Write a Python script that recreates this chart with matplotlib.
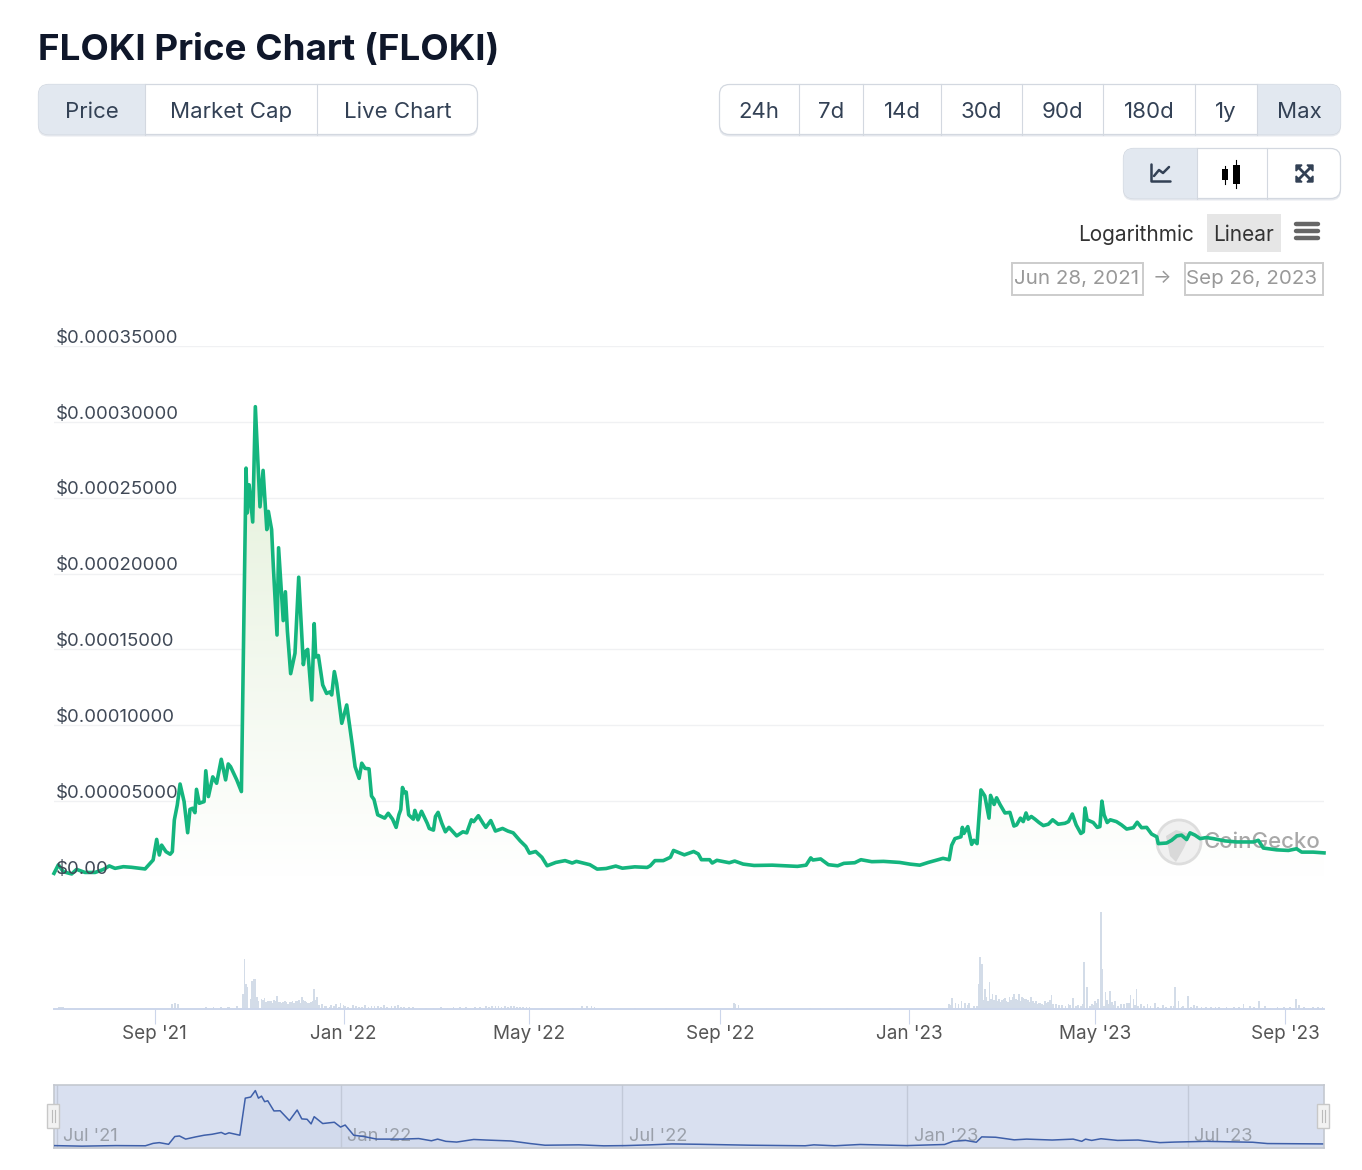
from datetime import date

import matplotlib
matplotlib.use('Agg')
from matplotlib import dates as mdates
from matplotlib import pyplot as plt
from matplotlib.colors import LinearSegmentedColormap
from matplotlib.patches import Circle, FancyBboxPatch, Polygon, Rectangle
import numpy as np

WIDTH = 1362
HEIGHT = 1170
START_DATE = date(2021, 6, 28)
NUM_DAYS = 820

# Price in units of 0.00001 USD, x is days after START_DATE
price_days = [0, 2.8, 6, 11.4, 14.6, 20, 26.5, 32, 35.7, 39.4, 44.8, 50, 58.8, 64, 66.3, 68, 69.5, 72.3, 75, 76.4,
              77.7, 79.6, 81.4, 84, 86.3, 87.8, 89.5, 91, 92, 93.8, 96.9, 98, 99.7, 102.5, 105, 108, 110.8, 112.5, 114, 118,
              121, 124, 124.8, 126, 128.3, 130, 133, 135, 137.4, 138.4, 140.5, 141.6, 144, 145, 148, 149.4, 150.7, 152.8, 155.6, 158,
              161, 162.3, 163.8, 166.4, 168, 169, 170.7, 173.5, 176, 178.2, 179.3, 181, 182.5, 185.8, 189, 191, 192.6, 194.4, 197, 198.7,
              200.8, 203.4, 205, 206.6, 209, 213.5, 215.8, 218.6, 220.9, 222.7, 223.9, 225, 226.2, 227.4, 229, 232, 233, 235, 237.3, 241,
              242.3, 245, 246.3, 248, 250.4, 252.7, 255, 260, 264, 266.5, 269.5, 271, 274, 277, 278.8, 282, 285, 289.6, 293, 296.5,
              301, 304.6, 307, 311, 315, 318.4, 324, 330, 334.6, 337.3, 346, 350.7, 356.5, 362.7, 367, 375, 383, 385, 388, 393.4,
              398, 400, 407, 413, 416, 418, 423.3, 425, 428, 436, 439.5, 445, 452, 463.7, 480, 485.6, 488.6, 490, 495, 500,
              506, 510, 517, 521, 528, 535.6, 546, 552.7, 559, 564.5, 570, 574, 578, 579.6, 581.7, 585.6, 586.5, 587.5, 590, 592.5,
              594, 596, 598.5, 601, 603.7, 604.7, 607, 608.6, 610.8, 614, 617.2, 619.8, 621.5, 624, 625.8, 627.6, 629, 631, 633.4, 636,
              638.8, 642, 644.8, 648.4, 652.7, 655, 657.5, 660, 663, 664.6, 665.7, 667, 671, 673.6, 675.3, 676.6, 678, 680, 682, 686,
              689.3, 692.6, 696.9, 699.4, 702.2, 705.5, 708.7, 712, 713, 718.4, 721.6, 725, 728, 731.3, 733.5, 736.7, 740, 744, 748.5, 756,
              763.6, 774.4, 777.6, 780.8, 789.4, 797, 802.3, 805.6, 813, 820]
price_values = [0.24, 0.8, 0.35, 0.2, 0.5, 0.3, 0.3, 0.5, 0.73, 0.57, 0.68, 0.64, 0.53, 1.12, 2.48, 1.45, 2.1, 1.67, 1.5, 1.67,
                3.76, 4.75, 6.13, 4.97, 2.92, 4.46, 4.53, 4.24, 5.78, 4.86, 4.97, 7.0, 5.3, 6.6, 6.18, 7.76, 6.4, 7.45, 7.27, 6.4,
                5.63, 26.95, 24, 25.85, 23.4, 31, 24.4, 26.8, 22.9, 24.1, 22.9, 20.5, 15.95, 21.7, 16.9, 18.8, 16.2, 13.4, 14.75, 19.76,
                14, 14.85, 15, 11.67, 16.7, 14.5, 14.6, 12.66, 12.1, 12.2, 12, 13.54, 12.77, 10.13, 11.34, 9.9, 8.7, 7.27, 6.5, 7.5,
                7.16, 7.13, 5.34, 5.11, 4.1, 3.88, 4.2, 3.81, 3.27, 4.1, 4.44, 5.9, 5.56, 5.6, 4.1, 3.81, 4.39, 3.77, 4.33, 3.54,
                3.2, 3.09, 3.99, 4.26, 3.54, 2.98, 3.27, 2.71, 2.98, 2.91, 3.77, 3.65, 4.04, 3.54, 3.27, 3.72, 3.03, 3.2, 3.03, 2.91,
                2.38, 2.02, 1.57, 1.68, 1.3, 0.74, 0.96, 1.08, 0.92, 1.03, 0.81, 0.52, 0.56, 0.72, 0.58, 0.67, 0.63, 0.74, 1.08, 1.08,
                1.3, 1.75, 1.46, 1.68, 1.52, 1.14, 1.14, 0.92, 1.1, 0.94, 1.05, 0.85, 0.76, 0.78, 0.7, 0.78, 1.26, 1.12, 1.19, 0.81,
                0.74, 0.9, 0.94, 1.14, 1.01, 1.03, 0.96, 0.85, 0.78, 0.96, 1.12, 1.23, 1.14, 2.09, 2.53, 2.65, 3.27, 2.87, 3.32, 2.15,
                2.42, 2.2, 5.74, 5.34, 3.88, 5.38, 4.78, 5.22, 4.78, 4.22, 4.26, 3.36, 3.43, 3.88, 3.65, 4.22, 3.81, 3.99, 3.81, 3.59,
                3.39, 3.48, 3.77, 3.48, 3.54, 3.65, 4.15, 3.43, 2.87, 2.98, 4.55, 3.77, 3.59, 3.27, 3.32, 5, 4.1, 3.59, 3.77, 3.65,
                3.43, 3.16, 3.25, 3.61, 3.25, 3.27, 2.83, 2.65, 2.2, 2.24, 2.42, 2.71, 2.76, 2.47, 2.91, 2.76, 2.53, 2.6, 2.53, 2.38,
                2.31, 2.31, 2.42, 1.91, 1.79, 1.75, 1.86, 1.64, 1.64, 1.59]

# Relative volume, only the height on screen can be read
volume_days = [3, 4, 5, 6, 76, 78, 80, 98, 103, 108, 112, 113, 118, 122, 123, 124, 125, 127, 128, 129, 130, 131, 132, 134,
               136, 138, 140, 142, 143, 144, 146, 148, 150, 152, 154, 156, 158, 160, 162, 164, 166, 168, 170, 173, 176, 179, 182, 185, 188, 193,
               197, 201, 205, 209, 213, 218, 222, 226, 232, 240, 250, 258, 266, 272, 279, 283, 287, 291, 295, 299, 303, 307, 315, 325, 335,
               341, 344, 347, 349, 360, 375, 395, 415, 439, 440, 442, 460, 488, 495, 505, 512, 540, 574, 578, 580, 582, 586, 588, 591, 594,
               597, 598, 599, 601, 602, 604, 606, 608, 610, 613, 617, 620, 623, 625, 628, 631, 634, 637, 640, 644, 647, 651, 655, 658, 661,
               664, 665, 667, 669, 672, 674, 676, 677, 679, 682, 685, 689, 693, 695, 697, 699, 702, 706, 711, 716, 721, 724, 726, 729, 732,
               736, 741, 747, 752, 762, 768, 772, 778, 782, 790, 798, 802, 804, 810, 816, 819,
               135, 137, 139, 141, 145, 147, 149, 151, 153, 155, 157, 159, 161, 163, 165, 167, 169, 171,
               175, 178, 181, 184, 187, 190, 195, 199, 203, 207, 211, 215, 220, 224, 229, 236, 245, 254, 262, 269, 275, 281, 285, 289, 293, 297, 301, 305,
               579, 584, 590, 596, 600, 603, 605, 607, 609, 611, 612, 614, 615, 616, 618, 619, 621, 622, 624, 626, 627, 629, 630, 632, 633, 635, 636, 638, 639, 641, 642, 643, 645,
               649, 653, 656, 660, 663, 670, 671, 673, 678, 680, 681, 683, 684, 687, 691, 694, 698, 700, 704, 708, 713, 718, 723, 728, 734, 738, 744, 750, 757, 765, 775, 785, 794, 807, 813]
volume_values = [2, 2, 2, 2, 5, 6, 5, 2, 2, 2, 2, 2, 3, 15, 50, 25, 22, 10, 28, 30, 30, 12, 8, 10,
                 11, 8, 8, 9, 8, 13, 7, 7, 7, 7, 8, 8, 9, 12, 8, 6, 7, 20, 12, 5, 3, 4, 5, 6, 3, 4,
                 2, 4, 3, 3, 4, 3, 4, 2, 2, 1, 2, 2, 2, 2, 3, 3, 3, 3, 3, 2, 2, 2, 1, 1, 1,
                 3, 3, 3, 2, 1, 1, 1, 1, 6, 5, 4, 1, 1, 1, 1, 1, 1, 1, 5, 11, 6, 8, 6, 6, 3,
                 25, 52, 45, 20, 12, 27, 15, 14, 10, 10, 12, 15, 15, 12, 10, 12, 8, 6, 8, 14, 5, 4, 5, 11, 4,
                 5, 47, 22, 3, 8, 10, 97, 40, 17, 18, 8, 5, 6, 14, 10, 20, 5, 5, 6, 4, 3, 22, 8, 3, 13,
                 4, 2, 2, 2, 2, 5, 3, 8, 3, 2, 2, 10, 4, 1, 2, 2,
                 9, 7, 8, 6, 7, 6, 8, 5, 7, 6, 8, 6, 9, 7, 6, 8, 9, 4,
                 3, 2, 3, 2, 4, 2, 3, 2, 2, 3, 2, 2, 3, 2, 2, 1, 1, 1, 2, 1, 2, 2, 3, 2, 2, 3, 2, 2,
                 4, 5, 4, 3, 9, 8, 10, 9, 8, 7, 9, 11, 8, 7, 9, 12, 10, 9, 8, 11, 10, 9, 7, 8, 6, 5, 6, 5, 4, 6, 7, 9, 5,
                 4, 3, 4, 3, 3, 5, 4, 6, 3, 9, 5, 7, 4, 3, 5, 6, 4, 3, 3, 3, 2, 2, 3, 2, 2, 3, 2, 2, 2, 2, 2, 1, 2, 2, 2]

# Navigator series, a smoother copy of the price
navigator_days = [0, 18, 40, 59, 64, 68, 74, 78, 81, 85, 91.5, 97, 102, 108, 110.5, 113, 120, 123.5, 127, 130, 132, 134, 136, 138,
                  142, 146, 152, 157, 160, 163.4, 166, 168, 173.5, 181, 185, 188, 193.5, 200, 208.4, 225, 235.5, 243.7, 247.7, 253, 260, 271, 279, 295,
                  307.5, 317, 339, 355, 369, 385, 399, 417, 450, 485, 490.6, 504, 520.5, 550.5, 575, 580.5, 588.7, 595.5, 599, 608, 620, 628, 644.5, 658,
                  663.6, 666, 670, 676, 686.7, 700, 714, 723.5, 744, 774, 783.5, 819]
navigator_values = [0.3, 0, 0.3, 0.2, 1.5, 1.9, 1, 5.2, 5.5, 3.8, 5, 5.9, 6.4, 7.4, 6.4, 7.2, 5.9, 25.9, 26.5, 30, 25.9, 27, 24, 24.5,
                    19, 19.1, 13.8, 19.5, 14.7, 14.5, 12, 15.9, 12.2, 12.9, 10.3, 11.4, 5.9, 5.2, 3.8, 3.8, 4.1, 2.9, 3.8, 2.6, 2.2, 3.6, 3.3, 2.8,
                    1.4, 0.5, 0.7, 0.17, 0.3, 0.7, 1.2, 1, 0.5, 0.2, 0.7, 0.2, 0.9, 0.3, 0.9, 2.6, 3.1, 2.1, 5, 4.8, 3.4, 3.8, 3.3, 3.8,
                    2.6, 3.8, 3.1, 4, 3.1, 3.3, 1.9, 2.2, 2.6, 2.1, 1.4, 1.2]

y_ticks = [0, 5, 10, 15, 20, 25, 30, 35]
y_tick_labels = ['$0.00', '$0.00005000', '$0.00010000', '$0.00015000', '$0.00020000', '$0.00025000', '$0.00030000', '$0.00035000']
x_tick_dates = [date(2021, 9, 1), date(2022, 1, 1), date(2022, 5, 1), date(2022, 9, 1), date(2023, 1, 1), date(2023, 5, 1), date(2023, 9, 1)]
x_tick_labels = ["Sep '21", "Jan '22", "May '22", "Sep '22", "Jan '23", "May '23", "Sep '23"]
navigator_tick_dates = [date(2021, 6, 30), date(2021, 12, 30), date(2022, 6, 30), date(2022, 12, 31), date(2023, 6, 30)]
navigator_tick_labels = ["Jul '21", "Jan '22", "Jul '22", "Jan '23", "Jul '23"]

plt.rcParams['font.family'] = ['Inter', 'DejaVu Sans']

TEXT_DARK = '#334155'
ACTIVE_BG = '#e2e8f0'
BORDER = '#d3d8e0'
LINE_GREEN = '#14b57e'


def main():
    fig = plt.figure(figsize=(WIDTH / 100, HEIGHT / 100), dpi=100)

    # Whole figure in pixels for the page controls around the chart
    page = fig.add_axes([0, 0, 1, 1], zorder=5)
    page.set_xlim(0, WIDTH)
    page.set_ylim(HEIGHT, 0)
    page.axis('off')
    page.patch.set_alpha(0)

    draw_controls(page)
    draw_price(fig, page)
    draw_volume(fig)
    draw_navigator(fig, page)
    draw_icons(page)

    fig.savefig('out.png', dpi=100, facecolor='white')
    plt.close(fig)


def px_axes(fig, left, top, right, bottom, **kwargs):
    return fig.add_axes([left / WIDTH, 1 - bottom / HEIGHT, (right - left) / WIDTH, (bottom - top) / HEIGHT], **kwargs)


def to_x(days):
    return mdates.date2num(START_DATE) + np.array(days, dtype=float)


def x_limits(ax):
    ax.set_xlim(to_x(0), to_x(NUM_DAYS))


def button_group(ax, left, top, right, bottom, dividers, labels, active):
    # Shadow, then the rounded white box
    ax.add_patch(FancyBboxPatch((left + 10, top + 11.5), right - left - 20, bottom - top - 20, boxstyle='round,pad=10,rounding_size=10',
                                fc='#e6e9ee', ec='none'))
    box = FancyBboxPatch((left + 10.5, top + 10.5), right - left - 21, bottom - top - 21, boxstyle='round,pad=10,rounding_size=10',
                         fc='white', ec=BORDER, lw=0.9)
    ax.add_patch(box)
    edges = [left] + dividers + [right]
    active_box = Rectangle((edges[active], top), edges[active + 1] - edges[active], bottom - top, fc=ACTIVE_BG, ec='none')
    ax.add_patch(active_box)
    active_box.set_clip_path(box)
    for x in dividers:
        ax.plot([x, x], [top, bottom], color=BORDER, lw=0.8)
    for i, label in enumerate(labels):
        ax.text((edges[i] + edges[i + 1]) / 2, (top + bottom) / 2 + 2, label, ha='center', va='center',
                fontsize=16, color=TEXT_DARK)


def draw_controls(ax):
    ax.text(38, 50.5, 'FLOKI Price Chart (FLOKI)', fontsize=26.5, fontweight='bold', color='#0f172a', va='center')

    button_group(ax, 38, 84, 478, 135, [145, 317], ['Price', 'Market Cap', 'Live Chart'], 0)
    button_group(ax, 719, 84, 1341, 135, [799, 863, 941, 1022, 1103, 1195, 1257],
                 ['24h', '7d', '14d', '30d', '90d', '180d', '1y', 'Max'], 7)
    button_group(ax, 1123, 148, 1341, 199, [1197, 1267], ['', '', ''], 0)

    ax.text(1078, 235, 'Logarithmic', fontsize=15, color='#333333', va='center')
    ax.add_patch(Rectangle((1207, 214), 74, 38, fc='#e6e6e6', ec='none'))
    ax.text(1244, 235, 'Linear', fontsize=15, color='#333333', va='center', ha='center')
    for y in [225, 232, 239]:
        ax.plot([1296, 1318], [y - 1, y - 1], color='#666666', lw=3.2, solid_capstyle='round')

    ax.add_patch(Rectangle((1011.5, 262.5), 131, 32, fc='white', ec='#cccccc', lw=1.4))
    ax.add_patch(Rectangle((1184.5, 262.5), 138, 32, fc='white', ec='#cccccc', lw=1.4))
    ax.text(1077, 279, 'Jun 28, 2021', fontsize=14.8, color='#999999', va='center', ha='center')
    ax.text(1252, 279, 'Sep 26, 2023', fontsize=14.8, color='#999999', va='center', ha='center')
    ax.text(1162, 278, '→', fontsize=14, color='#999999', va='center', ha='center')


def draw_icons(ax):
    # Line chart icon
    ax.plot([1151, 1151, 1170], [164, 181, 181], color=TEXT_DARK, lw=1.8, solid_capstyle='round')
    ax.plot([1154, 1159, 1163, 1169], [176, 170, 173, 167], color=TEXT_DARK, lw=1.8, solid_capstyle='round')

    # Candles icon
    ax.plot([1225, 1225], [166, 184], color='black', lw=0.8)
    ax.add_patch(Rectangle((1222, 169), 6, 11, fc='black', ec='none'))
    ax.plot([1236, 1236], [160, 188], color='black', lw=0.8)
    ax.add_patch(Rectangle((1233, 165), 7, 19, fc='black', ec='none'))

    # Expand icon
    for x0, y0, x1, y1 in [(1298, 167, 1311, 180), (1311, 167, 1298, 180)]:
        ax.plot([x0, x1], [y0, y1], color=TEXT_DARK, lw=2)
    for sx, sy in [(1296, 165), (1313, 165), (1296, 182), (1313, 182)]:
        dx = 6 if sx < 1304 else -6
        dy = 6 if sy < 173 else -6
        ax.add_patch(Polygon([(sx, sy), (sx + dx, sy), (sx, sy + dy)], fc=TEXT_DARK, ec=TEXT_DARK, lw=1))


def draw_price(fig, page):
    ax = px_axes(fig, 54, 346, 1324, 877)
    ax.patch.set_alpha(0)
    for spine in ax.spines.values():
        spine.set_visible(False)

    x = to_x(price_days)

    # Vertical gradient under the line
    cmap = LinearSegmentedColormap.from_list('area', ['#e3f0d9', '#ffffff'])
    gradient = ax.imshow(np.linspace(0, 1, 256).reshape(-1, 1), cmap=cmap, aspect='auto', zorder=1,
                         extent=[x[0], x[-1], 0, max(price_values)], origin='upper')
    area = ax.fill_between(x, price_values, 0, color='none', lw=0)
    gradient.set_clip_path(area.get_paths()[0], transform=ax.transData)

    # Watermark sits on the fill but behind the line
    ax.add_patch(Circle((1179, 842), 22, fc='#f0f0f0', ec='#dddddd', lw=2, zorder=2, transform=page.transData))
    ax.add_patch(Polygon([(1166, 836), (1176, 830), (1190, 834), (1184, 848), (1176, 862), (1170, 856)], fc='#d9d9d9', ec='none',
                         zorder=2, transform=page.transData))
    ax.text(1262, 842, 'CoinGecko', fontsize=16, color='#a8a8a8', ha='center', va='center', fontweight='medium', zorder=2,
            transform=page.transData)

    ax.plot(x, price_values, color=LINE_GREEN, lw=2.6, zorder=3, clip_on=False, solid_joinstyle='round')

    x_limits(ax)
    ax.set_ylim(0, 35)
    ax.set_xticks([])
    ax.set_yticks(y_ticks)
    ax.set_yticklabels([])
    ax.tick_params(left=False)
    ax.grid(axis='y', color='#f0f1f3', lw=1)
    ax.set_axisbelow(True)
    for tick, label in zip(y_ticks, y_tick_labels):
        ax.annotate(label, (0, tick), xycoords=ax.get_yaxis_transform(), xytext=(1, 5.6), textcoords='offset points',
                    fontsize=13.4, color='#3f4856', va='center', ha='left', zorder=4)


def draw_volume(fig):
    ax = px_axes(fig, 54, 909, 1324, 1009)
    ax.patch.set_alpha(0)
    ax.bar(to_x(volume_days), volume_values, width=1.1, color='#d3dce8', lw=0)
    x_limits(ax)
    ax.set_ylim(0, 100)
    for name in ['top', 'left', 'right']:
        ax.spines[name].set_visible(False)
    ax.spines['bottom'].set_color('#ccd6eb')
    ax.spines['bottom'].set_linewidth(1.4)
    ax.set_yticks([])
    ax.set_xticks(mdates.date2num(x_tick_dates))
    ax.set_xticklabels(x_tick_labels)
    ax.tick_params(axis='x', length=11, width=0.8, color='#ccd6eb', labelsize=13.6, labelcolor='#555555', pad=0.7)


def draw_navigator(fig, page):
    ax = px_axes(fig, 54, 1085, 1324, 1148)
    ax.set_facecolor('#d9e0f0')
    x = to_x(navigator_days)
    ax.fill_between(x, navigator_values, -1, color='#d2daec', lw=0, zorder=1)
    ax.plot(x, navigator_values, color='#3e5fa9', lw=1.1, zorder=3)
    x_limits(ax)
    ax.set_ylim(-1, 33)
    ax.set_xticks([])
    ax.set_yticks([])
    for spine in ax.spines.values():
        spine.set_color('#c4c8d0')
        spine.set_linewidth(1.2)
    for tick, label in zip(navigator_tick_dates, navigator_tick_labels):
        pos = mdates.date2num(tick)
        ax.axvline(pos, color='#c2c9d8', lw=1, zorder=2)
        ax.annotate(label, (pos, 0), xycoords=ax.get_xaxis_transform(), xytext=(4.5, 2), textcoords='offset points',
                    fontsize=13.2, color='#9aa0aa', va='bottom', ha='left', zorder=2)

    # Drag handles on both ends
    for px in [53, 1323]:
        page.add_patch(Rectangle((px - 6, 1104), 12, 24, fc='#f2f2f2', ec='#c8c8c8', lw=1))
        page.plot([px - 1.5, px - 1.5], [1110, 1122], color='#bbbbbb', lw=0.8)
        page.plot([px + 1.5, px + 1.5], [1110, 1122], color='#bbbbbb', lw=0.8)


if __name__ == '__main__':
    main()
